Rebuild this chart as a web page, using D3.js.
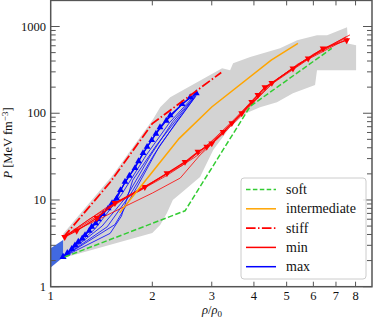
<!DOCTYPE html>
<html>
<head>
<meta charset="utf-8">
<script src="https://cdn.jsdelivr.net/npm/d3@7"></script>
<style>
  body { margin: 0; background: #fff; }
  svg { display: block; }
  text { font-family: "Liberation Serif", "DejaVu Serif", serif; fill: #111; }
</style>
</head>
<body>
<svg id="chart" width="373" height="321"></svg>
<script>
// ---- data (rho/rho0, P in MeV fm^-3) ----
const softEos = [[1.1, 2.2], [2.5, 7.5], [3.9, 120], [6.8, 560]];
const intermediateEos = [[1.6, 7.1], [2.0, 21], [2.4, 51], [3.0, 118], [4.5, 410], [5.4, 640]];
const stiffEos = [[1.09, 3.7], [1.5, 16], [2.0, 76], [3.2, 295]];

// gray band outline (upper edge left->right, lower edge left->right)
const bandUpper = [[1.088, 4.05], [1.52, 18.9], [2.01, 85], [2.11, 117], [2.26, 153], [3.22, 331],
  [3.4, 313], [3.47, 378], [3.9, 444], [4.78, 563], [5.37, 695], [6.15, 794], [6.59, 794],
  [7.55, 982], [7.6, 638], [8.03, 609], [8.03, 314], [6.15, 314]];
const bandLower = [[1.088, 2.14], [2.0, 4.16], [2.11, 5.14], [2.21, 7.06], [2.3, 9.97], [2.45, 12.3],
  [2.77, 18.4], [3.03, 37.6], [3.4, 69], [3.79, 100], [4.17, 117], [4.68, 134], [5.22, 170], [6.07, 211]];

// low density blue band
const lowBandUpper = [[1.0, 2.77], [1.088, 3.45]];
const lowBandLower = [[1.0, 1.67], [1.088, 2.18]];

// "max" curves (first two drawn with markers)
const maxMarkedA = [[1.088, 2.2], [1.154, 2.72], [1.207, 3.3], [1.264, 3.94], [1.323, 4.91], [1.384, 5.98],
  [1.48, 8.0], [1.569, 10.4], [1.66, 16.2], [1.777, 23.3], [1.877, 34.7], [1.992, 49], [2.108, 69],
  [2.26, 95], [2.59, 153]];
const maxMarkedB = [[1.088, 2.2], [1.12, 2.45], [1.18, 3.0], [1.24, 3.6], [1.3, 4.4], [1.36, 5.4],
  [1.43, 6.9], [1.52, 9.2], [1.61, 13], [1.71, 19], [1.82, 28], [1.93, 41], [2.05, 58], [2.2, 82],
  [2.45, 128], [2.7, 170]];
const maxThin = [
  [[1.088, 2.2], [1.35, 4.6], [1.62, 11.5], [1.92, 33], [2.25, 78], [2.72, 175]],
  [[1.088, 2.2], [1.42, 5.0], [1.68, 11], [1.97, 32], [2.3, 80], [2.7, 165]],
  [[1.088, 2.2], [1.47, 4.9], [1.72, 11.5], [2.02, 33], [2.35, 78], [2.68, 155]],
  [[1.088, 2.2], [1.5, 4.12], [1.62, 6.5], [1.75, 16.9], [2.05, 42], [2.65, 150]],
  [[1.088, 2.2], [1.55, 5.2], [1.8, 14], [2.1, 42], [2.7, 160]]
];

// "min" curves (first drawn with markers)
const minMarked = [[1.1, 3.74], [1.194, 4.42], [1.369, 6.19], [1.55, 9.21], [1.9, 14.1], [2.21, 20.3],
  [2.5, 27.5], [2.73, 35.9], [2.9, 41], [3.0, 44.9], [3.24, 61], [3.44, 76.9], [3.68, 100], [3.94, 135],
  [4.11, 162], [4.31, 200], [4.52, 224], [5.22, 328], [5.79, 428], [6.41, 558], [7.53, 695]];
const minThin = [
  [[1.09, 3.8], [2.0, 12], [2.42, 17.9], [2.77, 33], [3.3, 62], [3.7, 98], [4.5, 215], [5.8, 420], [7.6, 730]],
  [[1.09, 3.7], [1.6, 9.5], [2.2, 19], [2.7, 32], [3.1, 50], [3.6, 90], [4.4, 205], [5.6, 400], [7.5, 760]],
  [[1.09, 3.7], [1.45, 8], [1.85, 13], [2.6, 30], [3.2, 58], [3.8, 115], [4.7, 250], [6.0, 480], [7.7, 800]],
  [[1.09, 3.7], [1.3, 6], [1.75, 12], [2.45, 25], [2.95, 45], [3.5, 85], [4.2, 180], [5.4, 370], [7.4, 720]]
];

const xTickValues = [1, 2, 3, 4, 5, 6, 7, 8];
const yMajorValues = [1, 10, 100, 1000];
const legendLabels = ["soft", "intermediate", "stiff", "min", "max"];

// ---- setup ----
const svg = d3.select("#chart");
const plotLeft = 50.7, plotRight = 372, plotTop = 0.4, plotBottom = 286.7;

const x = d3.scaleLog().domain([1, 8.95]).range([plotLeft, plotRight]);
const y = d3.scaleLog().domain([1, 2000]).range([plotBottom, plotTop]);

svg.append("defs").append("clipPath").attr("id", "plot-clip")
  .append("rect")
  .attr("x", plotLeft).attr("y", plotTop)
  .attr("width", plotRight - plotLeft).attr("height", plotBottom - plotTop);

const plot = svg.append("g").attr("clip-path", "url(#plot-clip)");
const line = d3.line().x((d) => x(d[0])).y((d) => y(d[1]));

// bands
plot.append("path")
  .attr("d", line(bandUpper.concat(bandLower.slice().reverse())) + "Z")
  .attr("fill", "#d3d3d3");

plot.append("path")
  .attr("d", line(lowBandUpper.concat(lowBandLower.slice().reverse())) + "Z")
  .attr("fill", "#4169e1");

// max lines
maxThin.forEach((pts) => {
  plot.append("path").attr("d", line(pts))
    .attr("fill", "none").attr("stroke", "#0000ff").attr("stroke-width", 0.8);
});
[maxMarkedA, maxMarkedB].forEach((pts) => {
  plot.append("path").attr("d", line(pts))
    .attr("fill", "none").attr("stroke", "#0000ff").attr("stroke-width", 1.2);
  plot.append("g").selectAll("path")
    .data(pts)
    .enter()
    .append("path")
    .attr("d", d3.symbol(d3.symbolTriangle, 20))
    .attr("transform", (d) => `translate(${x(d[0])},${y(d[1])})`)
    .attr("fill", "#0000ff");
});

// min lines
minThin.forEach((pts) => {
  plot.append("path").attr("d", line(pts))
    .attr("fill", "none").attr("stroke", "#ff0000").attr("stroke-width", 0.8);
});
plot.append("path").attr("d", line(minMarked))
  .attr("fill", "none").attr("stroke", "#ff0000").attr("stroke-width", 1.2);
plot.append("g").selectAll("path")
  .data(minMarked)
  .enter()
  .append("path")
  .attr("d", d3.symbol(d3.symbolTriangle, 20))
  .attr("transform", (d) => `translate(${x(d[0])},${y(d[1])}) rotate(180)`)
  .attr("fill", "#ff0000");

// reference EoS
plot.append("path").attr("d", line(softEos))
  .attr("fill", "none").attr("stroke", "#33cc33").attr("stroke-width", 1.5)
  .attr("stroke-dasharray", "5.5,2.4");
plot.append("path").attr("d", line(intermediateEos))
  .attr("fill", "none").attr("stroke", "#ffa500").attr("stroke-width", 1.5);
plot.append("path").attr("d", line(stiffEos))
  .attr("fill", "none").attr("stroke", "#ff0000").attr("stroke-width", 1.8)
  .attr("stroke-dasharray", "9.6,2.4,1.5,2.4");

// ---- axes ----
const axisColor = "#555";
const ticks = svg.append("g").attr("stroke", axisColor).attr("stroke-width", 1);

// x ticks (bottom and top, inward)
xTickValues.slice(1).forEach((v) => {
  ticks.append("line").attr("x1", x(v)).attr("x2", x(v)).attr("y1", plotBottom).attr("y2", plotBottom - 5);
  ticks.append("line").attr("x1", x(v)).attr("x2", x(v)).attr("y1", plotTop).attr("y2", plotTop + 5);
});

// y ticks (left and right, inward)
const yMinorValues = [];
yMajorValues.forEach((dec) => {
  for (let k = 2; k <= 9; k++) if (dec * k <= 2000) yMinorValues.push(dec * k);
});
yMajorValues.forEach((v) => {
  ticks.append("line").attr("x1", plotLeft).attr("x2", plotLeft + 9).attr("y1", y(v)).attr("y2", y(v));
  ticks.append("line").attr("x1", plotRight).attr("x2", plotRight - 9).attr("y1", y(v)).attr("y2", y(v));
});
yMinorValues.forEach((v) => {
  ticks.append("line").attr("x1", plotLeft).attr("x2", plotLeft + 5).attr("y1", y(v)).attr("y2", y(v));
  ticks.append("line").attr("x1", plotRight).attr("x2", plotRight - 5).attr("y1", y(v)).attr("y2", y(v));
});

svg.append("rect")
  .attr("x", plotLeft).attr("y", plotTop)
  .attr("width", plotRight - plotLeft).attr("height", plotBottom - plotTop)
  .attr("fill", "none").attr("stroke", axisColor).attr("stroke-width", 1.5);

// tick labels
svg.append("g").selectAll("text")
  .data(xTickValues)
  .enter()
  .append("text")
  .attr("x", (d) => x(d))
  .attr("y", 300)
  .attr("text-anchor", "middle")
  .style("font-size", "12.5px")
  .text((d) => d);

svg.append("g").selectAll("text")
  .data(yMajorValues)
  .enter()
  .append("text")
  .attr("x", 46)
  .attr("y", (d) => y(d))
  .attr("dy", "0.33em")
  .attr("text-anchor", "end")
  .style("font-size", "12.5px")
  .text((d) => d);

// axis titles
const xTitle = svg.append("text")
  .attr("x", 212).attr("y", 314)
  .attr("text-anchor", "middle")
  .style("font-size", "12.5px");
xTitle.append("tspan").style("font-style", "italic").text("ρ");
xTitle.append("tspan").text("/");
xTitle.append("tspan").style("font-style", "italic").text("ρ");
xTitle.append("tspan").attr("dy", 2.5).style("font-size", "9px").text("0");

const yTitle = svg.append("text")
  .attr("transform", "translate(12,143) rotate(-90)")
  .attr("text-anchor", "middle")
  .style("font-size", "12.5px");
yTitle.append("tspan").style("font-style", "italic").text("P");
yTitle.append("tspan").text(" [MeV fm");
yTitle.append("tspan").attr("dy", -4.5).style("font-size", "9px").text("−3");
yTitle.append("tspan").attr("dy", 4.5).text("]");

// ---- legend ----
const legend = svg.append("g");
legend.append("rect")
  .attr("x", 241).attr("y", 178)
  .attr("width", 125).attr("height", 101)
  .attr("rx", 3)
  .attr("fill", "#fff").attr("fill-opacity", 0.85)
  .attr("stroke", "#ccc").attr("stroke-width", 1);

const legendStyles = [
  { color: "#33cc33", dash: "4.5,2.4", width: 1.5 },
  { color: "#ffa500", dash: null, width: 1.5 },
  { color: "#ff0000", dash: "9.6,2.4,1.5,2.4", width: 1.8 },
  { color: "#ff0000", dash: null, width: 1.5 },
  { color: "#0000ff", dash: null, width: 1.5 }
];

legendLabels.forEach((label, i) => {
  const ly = 189.5 + i * 19.3;
  legend.append("line")
    .attr("x1", 246).attr("x2", 276)
    .attr("y1", ly).attr("y2", ly)
    .attr("stroke", legendStyles[i].color)
    .attr("stroke-width", legendStyles[i].width)
    .attr("stroke-dasharray", legendStyles[i].dash);
  legend.append("text")
    .attr("x", 286).attr("y", ly)
    .attr("dy", "0.32em")
    .style("font-size", "14px")
    .text(label);
});
</script>
</body>
</html>
